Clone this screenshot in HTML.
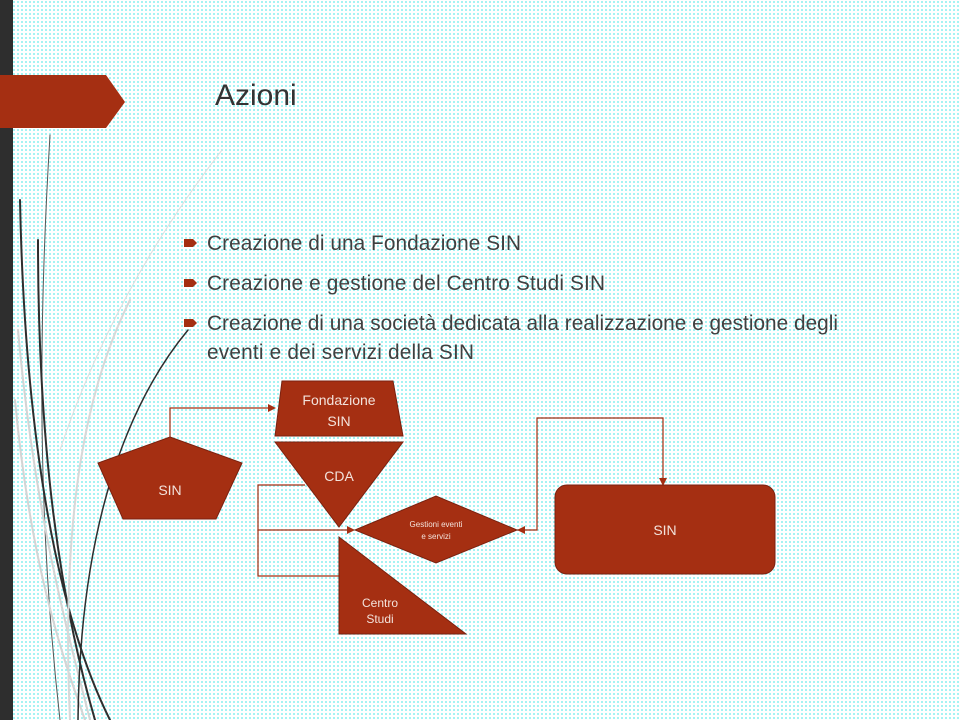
<!DOCTYPE html>
<html><head><meta charset="utf-8"><style>
html,body{margin:0;padding:0}
body{width:960px;height:720px;overflow:hidden;position:relative;background-color:#fff;
background-image:radial-gradient(circle,#8ff0f0 0.9px,transparent 1.1px);background-size:4px 4px;font-family:"Liberation Sans",sans-serif}
svg{position:absolute;left:0;top:0}
</style></head><body>
<svg width="960" height="720" viewBox="0 0 960 720" font-family="Liberation Sans, sans-serif">
<rect x="0" y="0" width="13" height="720" fill="#2e2e2e"/>
<g fill="none" stroke-linecap="round">
<path d="M50 135 C40 300 35 500 60 720" stroke="#555" stroke-width="1"/>
<path d="M20 200 C25 450 60 620 110 720" stroke="#2e2e2e" stroke-width="2"/>
<path d="M38 240 C38 450 60 600 95 720" stroke="#2e2e2e" stroke-width="2"/>
<path d="M18 330 C35 520 70 640 90 720" stroke="#d4d4d4" stroke-width="2"/>
<path d="M15 400 C30 560 60 650 85 720" stroke="#d4d4d4" stroke-width="2"/>
<path d="M130 300 C90 380 60 500 70 720" stroke="#d8d8d8" stroke-width="2"/>
<path d="M222 150 C160 230 100 330 60 450" stroke="#ddd" stroke-width="1"/>
<path d="M188 330 C130 400 80 520 78 720" stroke="#2e2e2e" stroke-width="1.5"/>
</g>
<polygon points="0,75 106,75 125,102 106,128 0,128" fill="#a52f12"/>
<text x="215" y="105" font-size="30" fill="#333">Azioni</text>
<g fill="#a52f12">
<polygon points="184,239 193,239 197,243 193,247 184,247"/>
<polygon points="184,279 193,279 197,283 193,287 184,287"/>
<polygon points="184,319 193,319 197,323 193,327 184,327"/>
</g>
<g font-size="20.8" fill="#404040">
<text x="207" y="250" textLength="314">Creazione di una Fondazione SIN</text>
<text x="207" y="290" textLength="398">Creazione e gestione del Centro Studi SIN</text>
<text x="207" y="330" textLength="631">Creazione di una società dedicata alla realizzazione  e gestione degli</text>
<text x="207" y="359" textLength="267">eventi e dei servizi della SIN</text>
</g>
<g fill="none" stroke="#a52f12" stroke-width="1.2">
<polyline points="170,437 170,408 270,408"/>
<polyline points="305,485 258,485 258,530 350,530"/>
<polyline points="339,576 258,576 258,530"/>
<polyline points="517,530 537,530 537,418 663,418 663,480"/>
</g>
<g fill="#a52f12">
<polygon points="276,408 268,404 268,412"/>
<polygon points="355,530 347,526 347,534"/>
<polygon points="517,530 525,526 525,534"/>
<polygon points="663,486 659,478 667,478"/>
</g>
<g fill="#a52f12" stroke="#7a2210" stroke-width="1">
<polygon points="170,437 242,463 216,519 123,519 98,463"/>
<polygon points="282,381 393,381 403,436 275,436"/>
<polygon points="275,442 403,442 339,527"/>
<polygon points="355,530 436,496 517,530 436,563"/>
<polygon points="339,537 466,634 339,634"/>
<rect x="555" y="485" width="220" height="89" rx="12"/>
</g>
<g fill="#f3e3dc" text-anchor="middle">
<text x="170" y="495" font-size="14">SIN</text>
<text x="339" y="405" font-size="14">Fondazione</text>
<text x="339" y="426" font-size="14">SIN</text>
<text x="339" y="481" font-size="14">CDA</text>
<text x="436" y="527" font-size="8">Gestioni eventi</text>
<text x="436" y="539" font-size="8">e servizi</text>
<text x="380" y="607" font-size="12">Centro</text>
<text x="380" y="623" font-size="12">Studi</text>
<text x="665" y="535" font-size="14">SIN</text>
</g>
</svg>
</body></html>
